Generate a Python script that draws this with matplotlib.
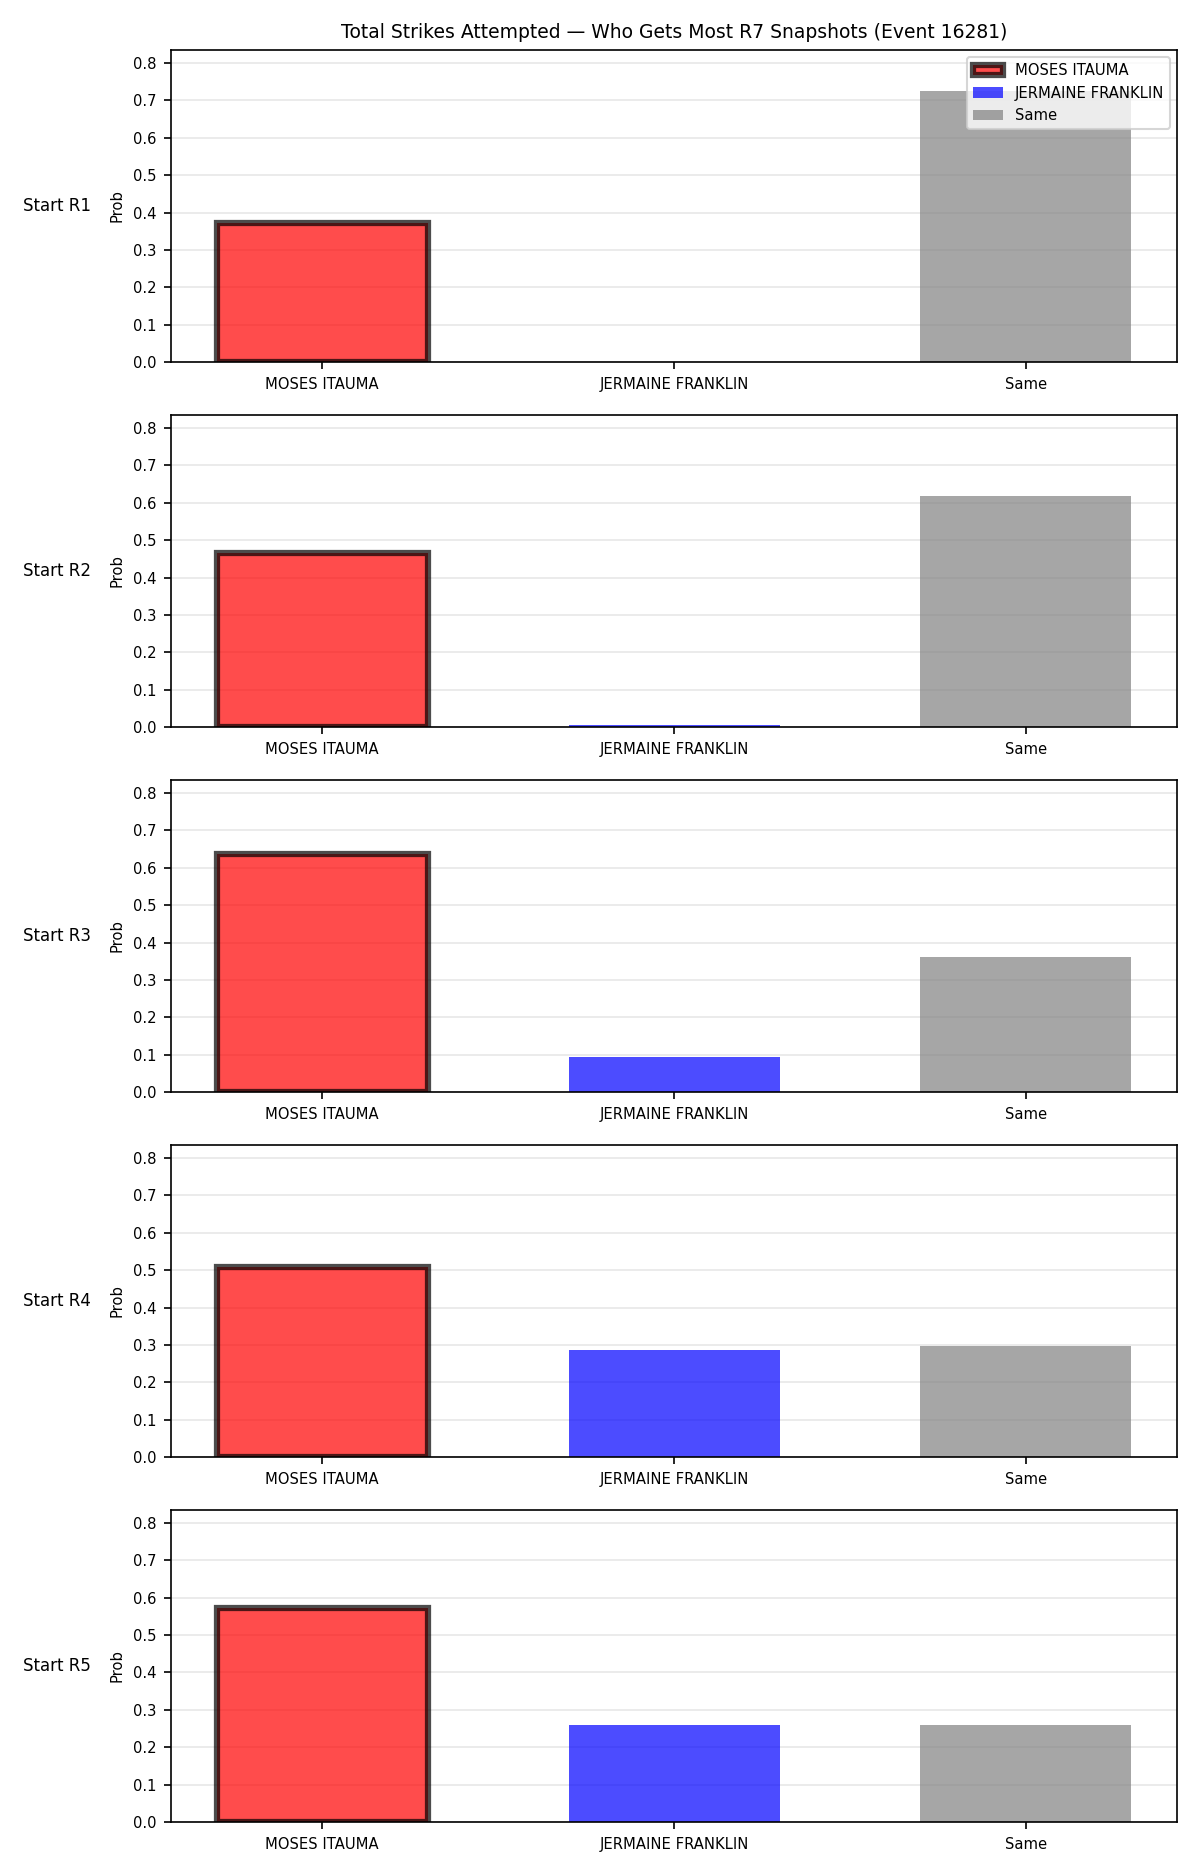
import numpy as np
import matplotlib.pyplot as plt

# outcome categories and per-start probabilities
categories = ["MOSES ITAUMA", "JERMAINE FRANKLIN", "Same"]
start_labels = ["Start R1", "Start R2", "Start R3", "Start R4", "Start R5"]
moses_probs = [0.371, 0.465, 0.636, 0.508, 0.572]
franklin_probs = [0.0, 0.006, 0.094, 0.287, 0.260]
same_probs = [0.726, 0.618, 0.362, 0.296, 0.260]

colors = ["red", "blue", "gray"]
ymax = max(max(moses_probs), max(franklin_probs), max(same_probs)) * 1.15

fig, axes = plt.subplots(5, 1, figsize=(8, 12.5), dpi=150)
fig.subplots_adjust(left=0.1425, right=0.981, top=0.9733, bottom=0.0283, hspace=0.17)

x = np.arange(len(categories))
for i, ax in enumerate(axes):
    vals = [moses_probs[i], franklin_probs[i], same_probs[i]]
    bars = ax.bar(x, vals, width=0.6, color=colors, alpha=0.7)
    bars[0].set_edgecolor("black")
    bars[0].set_linewidth(3)

    ax.set_xticks(x)
    ax.set_xticklabels(categories, fontsize=7.1)
    ax.tick_params(axis="y", labelsize=7.1)
    ax.set_ylim(0, ymax)
    ax.set_ylabel("Prob", fontsize=7.1)
    ax.grid(axis="y", alpha=0.3)
    ax.set_axisbelow(True)
    ax.text(-0.08, 0.5, start_labels[i], transform=ax.transAxes,
            ha="right", va="center", fontsize=8)

    if i == 0:
        ax.set_title("Total Strikes Attempted \u2014 Who Gets Most R7 Snapshots (Event 16281)",
                     fontsize=9)
        ax.legend([bars[0], bars[1], bars[2]], categories, loc="upper right", fontsize=7.1)

plt.savefig("out.png", dpi=150)
